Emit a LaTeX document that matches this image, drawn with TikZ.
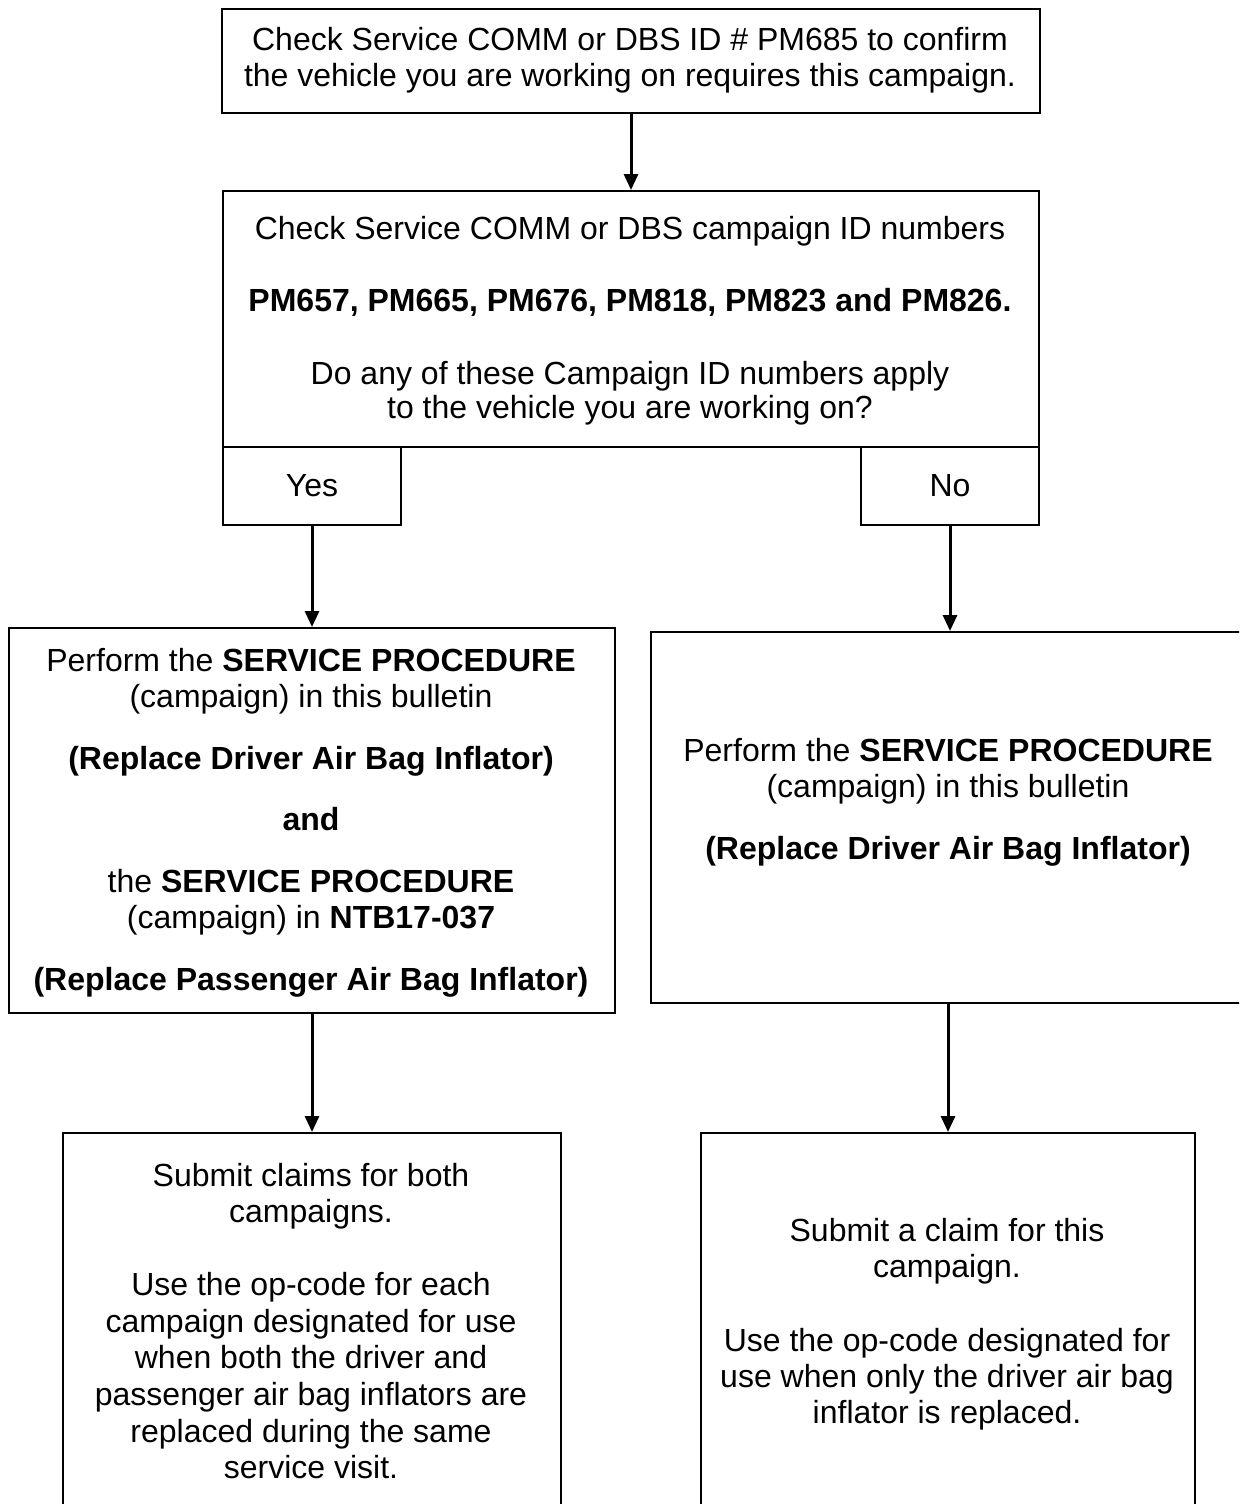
\documentclass[tikz,border=0pt]{standalone}
\usepackage{fontspec}
\setmainfont{Liberation Sans}
\usetikzlibrary{arrows.meta}
\newcommand\mkbox[5]{\node[box, minimum width={(#4-#2)*0.5pt}, minimum height={(#5-#3)*0.5pt}] (#1) at (#2,#3) {};}
\begin{document}
\begin{tikzpicture}[x=0.5pt,y=-0.5pt,
  box/.style={draw, line width=1pt, inner sep=0pt, anchor=north west},
  txt/.style={anchor=base, inner sep=0pt, font=\fontsize{16}{18.3}\selectfont},
  arr/.style={-{Triangle[length=8pt,width=7pt]}, line width=1.5pt}]
\useasboundingbox (0,0) rectangle (1239,1504);
\clip (0,0) rectangle (1239,1504);
% boxes
\mkbox{top}{221}{8}{1039}{112}
\mkbox{box2}{222}{190}{1038}{446}
\mkbox{left}{8}{627}{614}{1012}
\mkbox{right}{650}{631}{1250}{1002}
\mkbox{bl}{62}{1132}{560}{1530}
\mkbox{br}{700}{1132}{1194}{1530}
\node[box, anchor=north west, minimum width={(400-222)*0.5pt}, minimum height={(524-446)*0.5pt}, font=\fontsize{16}{18.3}\selectfont] (yes) at (222,446) {Yes};
\node[box, anchor=north west, minimum width={(1038-860)*0.5pt}, minimum height={(524-446)*0.5pt}, font=\fontsize{16}{18.3}\selectfont] (no) at (860,446) {No};
% top box text
\node[txt] (a1) at (630,51) {Check Service COMM or DBS ID \# PM685 to confirm};
\node[txt] (a2) at (630,87) {the vehicle you are working on requires this campaign.};
% second box text
\node[txt] (b1) at (630,239) {Check Service COMM or DBS campaign ID numbers};
\node[txt] (b2) at (630,311) {\bfseries PM657, PM665, PM676, PM818, PM823 and PM826.};
\node[txt] (b3) at (630,384) {Do any of these Campaign ID numbers apply};
\node[txt] (b4) at (630,418) {to the vehicle you are working on?};
% left box text
\node[txt] (c1) at (311,671) {Perform the \textbf{SERVICE PROCEDURE}};
\node[txt] (c2) at (311,707) {(campaign) in this bulletin};
\node[txt] (c3) at (311,769) {\bfseries (Replace Driver Air Bag Inflator)};
\node[txt] (c4) at (311,830) {\bfseries and};
\node[txt] (c5) at (311,892) {the \textbf{SERVICE PROCEDURE}};
\node[txt] (c6) at (311,928) {(campaign) in \textbf{NTB17-037}};
\node[txt] (c7) at (311,990) {\bfseries (Replace Passenger Air Bag Inflator)};
% right box text
\node[txt] (d1) at (948,761) {Perform the \textbf{SERVICE PROCEDURE}};
\node[txt] (d2) at (948,797) {(campaign) in this bulletin};
\node[txt] (d3) at (948,859) {\bfseries (Replace Driver Air Bag Inflator)};
% bottom left text
\node[txt] (e1) at (311,1186) {Submit claims for both};
\node[txt] (e2) at (311,1222) {campaigns.};
\node[txt] (e3) at (311,1295) {Use the op-code for each};
\node[txt] (e4) at (311,1332) {campaign designated for use};
\node[txt] (e5) at (311,1368) {when both the driver and};
\node[txt] (e6) at (311,1405) {passenger air bag inflators are};
\node[txt] (e7) at (311,1442) {replaced during the same};
\node[txt] (e8) at (311,1478) {service visit.};
% bottom right text
\node[txt] (f1) at (947,1241) {Submit a claim for this};
\node[txt] (f2) at (947,1277) {campaign.};
\node[txt] (f3) at (947,1351) {Use the op-code designated for};
\node[txt] (f4) at (947,1387) {use when only the driver air bag};
\node[txt] (f5) at (947,1423) {inflator is replaced.};
% connectors
\draw[arr] (top.south) -- (top.south |- box2.north);
\draw[arr] (yes.south) -- (yes.south |- left.north);
\draw[arr] (no.south) -- (no.south |- right.north);
\draw[arr] (left.south) -- (left.south |- bl.north);
\draw[arr] (br.north |- right.south) -- (br.north);
\end{tikzpicture}
\end{document}
